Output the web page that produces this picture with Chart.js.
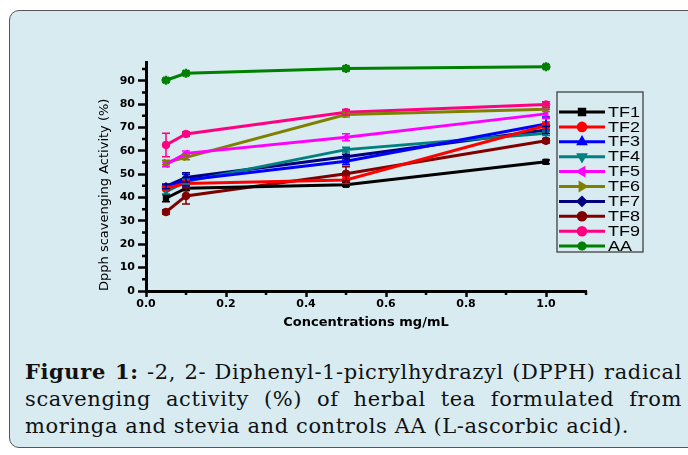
<!DOCTYPE html>
<html>
<head>
<meta charset="utf-8">
<script src="https://cdn.jsdelivr.net/npm/chart.js@4/dist/chart.umd.min.js"></script>
<style>
  html, body { margin: 0; padding: 0; background: #fff; overflow: hidden; }
  body { width: 688px; height: 455px; position: relative; }
  .card {
    position: absolute; left: 9px; top: 10px; width: 780px; height: 436px;
    background: #d7ebf1; border: 1.5px solid #555; border-radius: 10px;
  }
  #chart { position: absolute; left: 0; top: 0; }
  .caption {
    position: absolute; left: 25px; top: 358px; width: 657px;
    font-family: "DejaVu Serif", serif; font-size: 21px; line-height: 27px;
    letter-spacing: 0.6px; color: #111;
  }
  .caption div { text-align: justify; text-align-last: justify; }
  .caption div.last { text-align-last: left; white-space: nowrap; }
</style>
</head>
<body>
<div class="card"></div>
<canvas id="chart" width="688" height="340"></canvas>
<div class="caption">
  <div><b>Figure 1:</b> -2, 2- Diphenyl-1-picrylhydrazyl (DPPH) radical</div>
  <div>scavenging activity (%) of herbal tea formulated from</div>
  <div class="last">moringa and stevia and controls AA (L-ascorbic acid).</div>
</div>
<script>
// concentrations (mg/mL)
const CONC = [0.05, 0.1, 0.5, 1.0];

const LABELS = ['TF1', 'TF2', 'TF3', 'TF4', 'TF5', 'TF6', 'TF7', 'TF8', 'TF9', 'AA'];

// mean activity (%)
const TF1 = [39.7, 44.0, 45.5, 55.3];
const TF2 = [44.0, 46.0, 47.5, 70.8];
const TF3 = [44.5, 47.5, 55.5, 71.5];
const TF4 = [42.5, 46.8, 60.5, 67.5];
const TF5 = [54.2, 58.9, 65.8, 75.8];
const TF6 = [55.0, 57.2, 75.5, 77.8];
const TF7 = [44.8, 48.6, 57.5, 68.9];
const TF8 = [33.8, 40.7, 50.2, 64.3];
const TF9 = [62.5, 67.2, 76.5, 79.8];
const AA  = [90.2, 93.2, 95.2, 96.0];

// error bars (+/-)
const TF1_ERR = [1.5, 1.0, 0.8, 0.8];
const TF2_ERR = [1.0, 1.0, 1.5, 1.5];
const TF3_ERR = [1.0, 2.5, 1.5, 3.0];
const TF4_ERR = [1.0, 1.0, 1.0, 1.0];
const TF5_ERR = [1.0, 1.0, 1.5, 2.0];
const TF6_ERR = [1.0, 1.0, 1.0, 1.0];
const TF7_ERR = [1.0, 2.0, 1.0, 1.5];
const TF8_ERR = [1.0, 3.5, 3.0, 1.0];
const TF9_ERR = [5.0, 1.0, 1.2, 1.2];
const AA_ERR  = [0.8, 1.0, 1.0, 0.8];

const X_TICKS = [0, 0.2, 0.4, 0.6, 0.8, 1.0];
const X_MINOR = [0.1, 0.3, 0.5, 0.7, 0.9, 1.1];
const Y_TICKS = [0, 10, 20, 30, 40, 50, 60, 70, 80, 90];
const Y_MINOR = [5, 15, 25, 35, 45, 55, 65, 75, 85, 95];

const SERIES = [TF1, TF2, TF3, TF4, TF5, TF6, TF7, TF8, TF9, AA];
const ERRORS = [TF1_ERR, TF2_ERR, TF3_ERR, TF4_ERR, TF5_ERR, TF6_ERR, TF7_ERR, TF8_ERR, TF9_ERR, AA_ERR];
const COLORS = ['#000000', '#ff0000', '#0000ff', '#008080', '#ff00ff', '#808000', '#000080', '#800000', '#ff0080', '#008000'];
const STYLES = ['rect', 'circle', 'triangle', 'triangle', 'triangle', 'triangle', 'rectRot', 'circle', 'circle', 'star'];
const ROTATE = [0, 0, 0, 180, -90, 90, 0, 0, 0, 0];

const AXIS_FONT = { family: 'DejaVu Sans', size: 11, weight: 'bold' };

const datasets = SERIES.map((vals, i) => ({
    label: LABELS[i],
    data: vals.map((v, j) => ({ x: CONC[j], y: v })),
    err: ERRORS[i],
    borderColor: COLORS[i],
    backgroundColor: COLORS[i],
    pointBackgroundColor: COLORS[i],
    pointBorderColor: COLORS[i],
    borderWidth: 3,
    pointStyle: STYLES[i],
    rotation: ROTATE[i],
    pointRadius: STYLES[i] === 'star' ? 4.5 : 3.8,
    pointBorderWidth: STYLES[i] === 'star' ? 2.5 : 1,
    tension: 0
}));

// error bars + minor ticks + legend box
const extras = {
    id: 'extras',
    afterDatasetsDraw(chart) {
        const { ctx, scales: { x, y } } = chart;
        ctx.save();
        chart.data.datasets.forEach(ds => {
            ctx.strokeStyle = ds.borderColor;
            ctx.lineWidth = 1.5;
            ds.data.forEach((p, j) => {
                const e = ds.err[j];
                if (!e) return;
                const px = x.getPixelForValue(p.x);
                const t = y.getPixelForValue(p.y + e);
                const b = y.getPixelForValue(p.y - e);
                ctx.beginPath();
                ctx.moveTo(px, t); ctx.lineTo(px, b);
                ctx.moveTo(px - 4, t); ctx.lineTo(px + 4, t);
                ctx.moveTo(px - 4, b); ctx.lineTo(px + 4, b);
                ctx.stroke();
            });
        });
        ctx.restore();
    },
    afterDraw(chart) {
        const { ctx, scales: { x, y }, chartArea: a } = chart;
        ctx.save();
        ctx.strokeStyle = '#000';
        ctx.lineWidth = 2.5;
        ctx.beginPath();
        X_MINOR.forEach(v => {
            const px = x.getPixelForValue(v);
            ctx.moveTo(px, a.bottom); ctx.lineTo(px, a.bottom + 4);
        });
        Y_MINOR.forEach(v => {
            const py = y.getPixelForValue(v);
            ctx.moveTo(a.left, py); ctx.lineTo(a.left - 4, py);
        });
        ctx.stroke();

        // legend
        const lx = 557, ly = 92, lw = 86, lh = 160, row = 14.9;
        ctx.lineWidth = 1.2;
        ctx.strokeStyle = '#333';
        ctx.strokeRect(lx, ly, lw, lh);
        chart.data.datasets.forEach((ds, i) => {
            const cy = ly + 20 + i * row;
            ctx.strokeStyle = ds.borderColor;
            ctx.lineWidth = 3;
            ctx.beginPath();
            ctx.moveTo(lx + 2, cy); ctx.lineTo(lx + 48, cy);
            ctx.stroke();
            ctx.fillStyle = ds.borderColor;
            Chart.helpers.drawPoint(ctx, {
                pointStyle: ds.pointStyle, rotation: ds.rotation,
                radius: ds.pointRadius, borderWidth: ds.pointBorderWidth
            }, lx + 25, cy);
            ctx.save();
            ctx.fillStyle = '#000';
            ctx.font = '15px "Liberation Sans", Arial, sans-serif';
            ctx.textBaseline = 'middle';
            ctx.translate(lx + 51, cy + 0.5);
            ctx.scale(1.2, 1);
            ctx.fillText(ds.label, 0, 0);
            ctx.restore();
        });
        ctx.restore();
    }
};

new Chart(document.getElementById('chart'), {
    type: 'line',
    data: { datasets },
    plugins: [extras],
    options: {
        responsive: false,
        animation: false,
        devicePixelRatio: 1,
        layout: { padding: { left: 90, top: 62, right: 102, bottom: 0 } },
        plugins: { legend: { display: false }, tooltip: { enabled: false } },
        scales: {
            x: {
                type: 'linear', min: 0, max: 1.1,
                afterBuildTicks: s => { s.ticks = X_TICKS.map(v => ({ value: v })); },
                afterFit: s => { s.height = 49; },
                grid: { drawOnChartArea: false, tickLength: 6, tickWidth: 2.5, tickColor: '#000' },
                border: { display: true, color: '#000', width: 3 },
                ticks: { font: AXIS_FONT, color: '#000', padding: 1, maxRotation: 0, callback: v => v.toFixed(1) },
                title: { display: true, text: 'Concentrations mg/mL', color: '#000',
                    font: { family: 'DejaVu Sans', size: 13, weight: 'bold' }, padding: { top: 0, bottom: 10 } }
            },
            y: {
                min: 0, max: 98,
                afterBuildTicks: s => { s.ticks = Y_TICKS.map(v => ({ value: v })); },
                afterFit: s => { s.width = 56; },
                grid: { drawOnChartArea: false, tickLength: 8, tickWidth: 2.5, tickColor: '#000' },
                border: { display: true, color: '#000', width: 3 },
                ticks: { font: AXIS_FONT, color: '#000', padding: 3 },
                title: { display: true, text: 'Dpph scavenging Activity (%)', color: '#000', align: 'start',
                    font: { family: 'DejaVu Sans', size: 13 }, padding: { top: 7, bottom: 0 } }
            }
        }
    }
});
</script>
</body>
</html>
